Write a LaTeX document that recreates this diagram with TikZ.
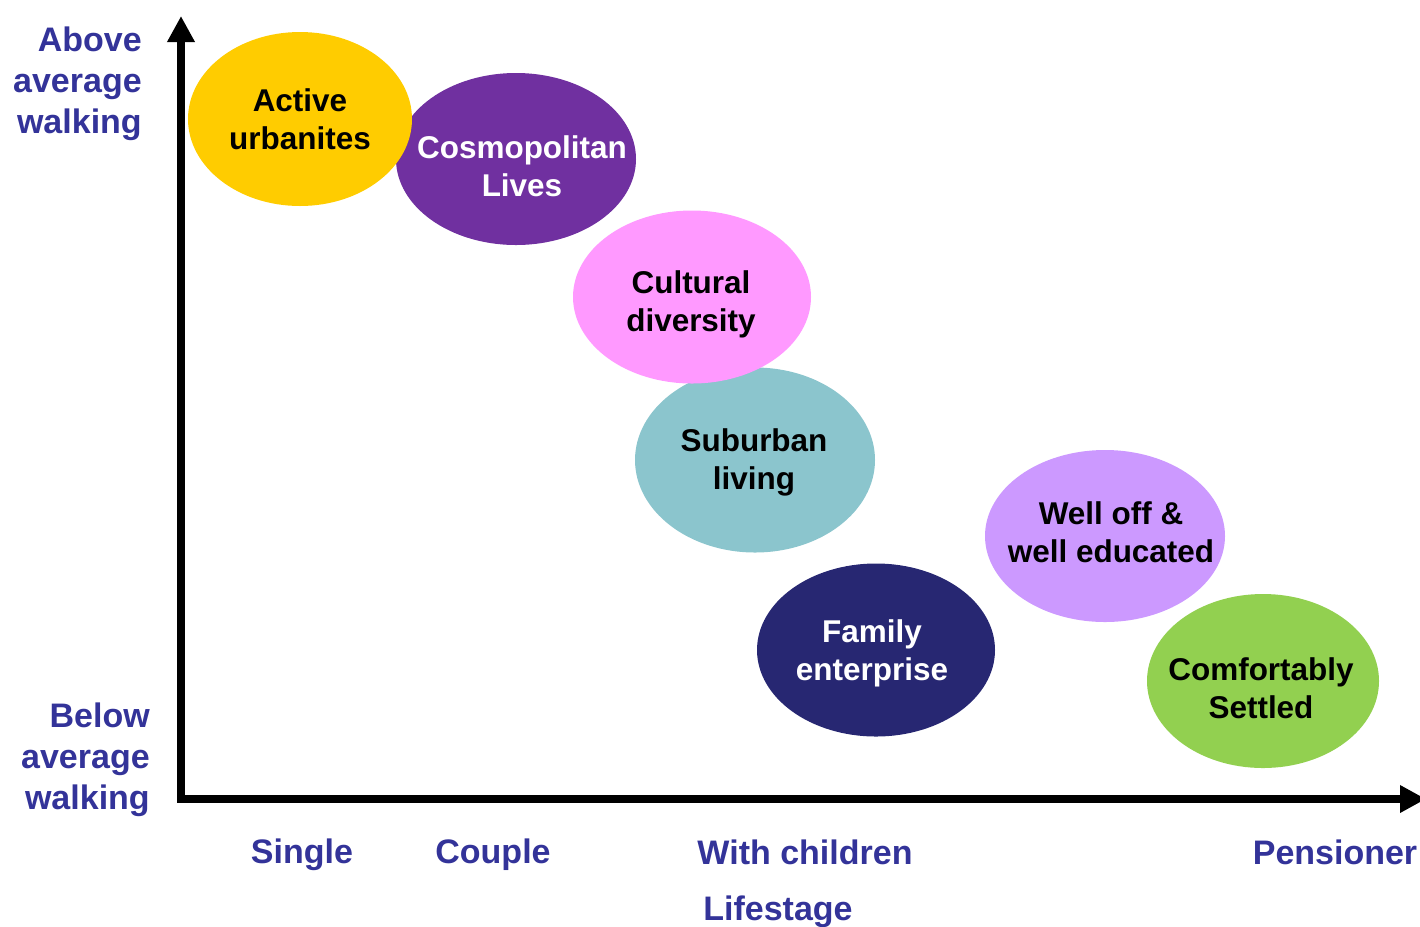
\documentclass[tikz,border=0pt]{standalone}
\usepackage{fontspec}
\setmainfont{Liberation Sans}
\usetikzlibrary{arrows.meta,shapes.geometric}

\definecolor{axisblue}{HTML}{333399}
\definecolor{cYellow}{HTML}{FFCC00}
\definecolor{cPurple}{HTML}{7030A0}
\definecolor{cPink}{HTML}{FF99FF}
\definecolor{cTeal}{HTML}{8BC5CD}
\definecolor{cLavender}{HTML}{CC99FF}
\definecolor{cNavy}{HTML}{272772}
\definecolor{cGreen}{HTML}{92D050}

\tikzset{
  blob/.style={ellipse, draw=none, inner sep=0pt},
  blobtext/.style={align=center, inner sep=0pt,
    font=\fontsize{23.6pt}{28.5pt}\selectfont\bfseries},
  axislabel/.style={text=axisblue, inner sep=0pt,
    font=\fontsize{25.5pt}{30.75pt}\selectfont\bfseries},
  axisline/.style={line width=6pt, -{Triangle[width=19.5pt,length=19.5pt]}},
}

\begin{document}
\begin{tikzpicture}[x=0.75pt,y=-0.75pt]
\useasboundingbox (0,0) rectangle (1420,926);

% axes
\coordinate (origin) at (181,799);
\coordinate (ytip) at (181,16);
\coordinate (xtip) at (1426,799);
\draw[axisline] (origin) -- (ytip);
\draw[axisline] ([xshift=-3pt]origin) -- (xtip);

% segment ellipses
\node[blob, fill=cPurple, minimum width=180pt, minimum height=129pt] (cl) at (516,159) {};
\node[blob, fill=cYellow, minimum width=168pt, minimum height=130.5pt] (au) at (300,119) {};
\node[blob, fill=cTeal, minimum width=180pt, minimum height=138.75pt] (sl) at (755,460) {};
\node[blob, fill=cPink, minimum width=178.5pt, minimum height=129.75pt] (cd) at (692,297) {};
\node[blob, fill=cNavy, minimum width=178.5pt, minimum height=129.75pt] (fe) at (876,650) {};
\node[blob, fill=cLavender, minimum width=180pt, minimum height=129pt] (wo) at (1105,536) {};
\node[blob, fill=cGreen, minimum width=174pt, minimum height=130.5pt] (cs) at (1263,681) {};

% segment names
\node[blobtext] (au-t) at (300,119) {Active\\urbanites};
\node[blobtext, text=white] (cl-t) at (522,166) {Cosmopolitan\\Lives};
\node[blobtext] (cd-t) at (691,304) {Cultural\\diversity};
\node[blobtext] (sl-t) at (754,462) {Suburban\\living};
\node[blobtext] (wo-t) at (1111,532) {Well off \&\\well educated};
\node[blobtext, text=white] (fe-t) at (872,653) {Family\\enterprise};
\node[blobtext] (cs-t) at (1261,688) {Comfortably\\Settled};

% axis labels
\node[axislabel, align=right, anchor=east] (above) at (142,84) {Above\\average\\walking};
\node[axislabel, align=right, anchor=east] (below) at (150,760) {Below\\average\\walking};
\node[axislabel] (single) at (302,855) {Single};
\node[axislabel] (couple) at (493,855) {Couple};
\node[axislabel] (children) at (805,852) {With children};
\node[axislabel] (pensioner) at (1335,852) {Pensioner};
\node[axislabel] (lifestage) at (778,912) {Lifestage};
\end{tikzpicture}
\end{document}
